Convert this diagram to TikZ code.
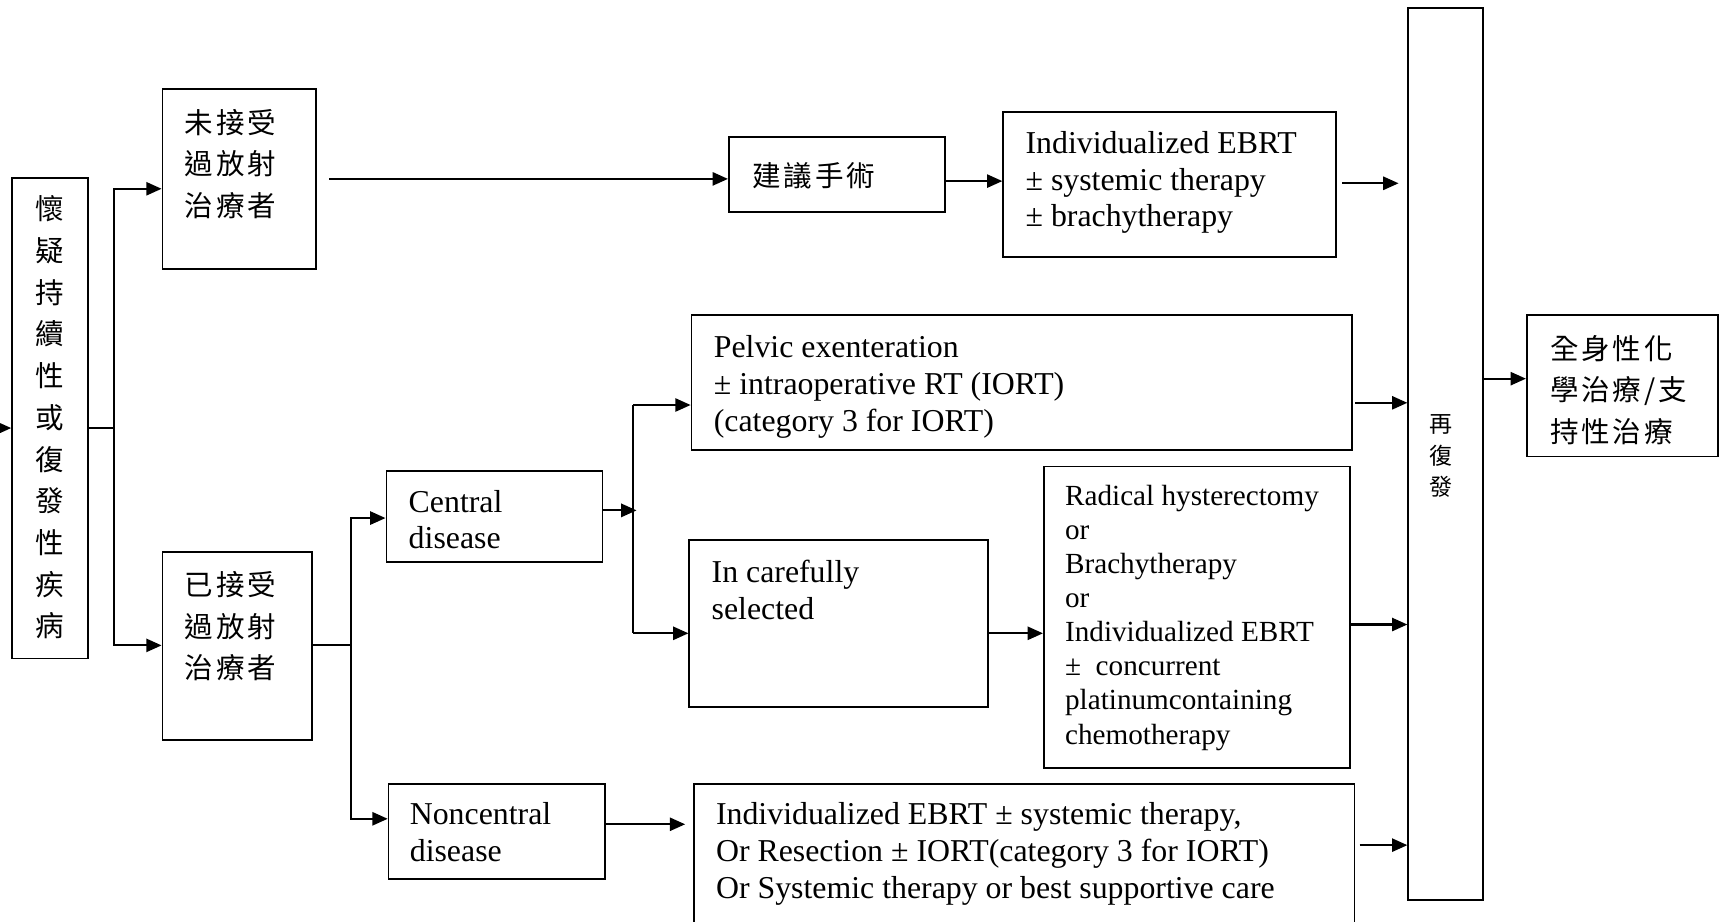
\documentclass[tikz,border=0pt]{standalone}
\usepackage{fontspec}
\setmainfont{Liberation Serif}
\newfontfamily\cjk[LetterSpace=10]{Noto Sans CJK TC}
\newfontfamily\cjkplain{Noto Sans CJK TC}
\usetikzlibrary{arrows.meta,fit}
\begin{document}
\begin{tikzpicture}[x=0.5pt,y=-0.5pt]
\tikzset{
 box/.style={draw, line width=0.75pt, inner sep=0pt},
 arr/.style={line width=1pt, -{Triangle[length=7pt,width=6pt]}},
 ln/.style={line width=1pt},
 tx/.style={inner sep=0pt, anchor=north west, align=left, font=\fontsize{14.5}{16.8}\selectfont, execute at begin node=\strut},
 txs/.style={tx, font=\fontsize{13.3}{15.5}\selectfont},
 cj/.style={inner sep=0pt, anchor=north west, align=left, font=\cjk\fontsize{13}{19}\selectfont, execute at begin node=\strut},
 cjv/.style={inner sep=0pt, anchor=north, align=center, font=\cjkplain\fontsize{13}{19}\selectfont, execute at begin node=\strut},
 cjr/.style={inner sep=0pt, anchor=north, align=center, font=\cjkplain\fontsize{10.5}{14.5}\selectfont, execute at begin node=\strut},
}
\clip (0,0) rectangle (1568,840);
\useasboundingbox (0,0) rectangle (1568,840);
\fill[white] (0,0) rectangle (1568,840);

% boxes
\node[box, fit={(11,162) (80,600)}] (L) {};
\node[box, fit={(148,81) (288,245)}] (A) {};
\node[box, fit={(148,503) (284,674)}] (B) {};
\node[box, fit={(664,125) (861,193)}] (S) {};
\node[box, fit={(914,102) (1217,234)}] (E) {};
\node[box, fit={(1283,7) (1351,820)}] (R) {};
\node[box, fit={(1391,287) (1565,416)}] (F) {};
\node[box, fit={(352,429) (549,512)}] (C) {};
\node[box, fit={(354,714) (551,801)}] (N) {};
\node[box, fit={(630,287) (1232,410)}] (P) {};
\node[box, fit={(628,492) (900,644)}] (K) {};
\node[box, fit={(951,425) (1230,700)}] (D) {};
\node[box, fit={(632,714) (1234,860)}] (M) {};

% texts
\node[cjv] (tL) at (45,178) {懷\\疑\\持\\續\\性\\或\\復\\發\\性\\疾\\病};
\node[cj] (tA) at (168,99) {未接受\\過放射\\治療者};
\node[cj] (tB) at (168,520) {已接受\\過放射\\治療者};
\node[cj] (tS) at (685,143) {建議手術};
\node[tx] (tE) at (934,119) {Individualized EBRT\\± systemic therapy\\± brachytherapy};
\node[cjr] (tR) at (1313,377) {再\\復\\發};
\node[cj] (tF) at (1412,305) {全身性化\\學治療/支\\持性治療};
\node[tx] (tC) at (372,446) {Central\\disease};
\node[tx] (tN) at (373,731) {Noncentral\\disease};
\node[tx] (tP) at (650,305) {Pelvic exenteration\\± intraoperative RT (IORT)\\(category 3 for IORT)};
\node[tx] (tK) at (648,510) {In carefully\\selected};
\node[txs] (tD) at (970,442) {Radical hysterectomy\\or\\Brachytherapy\\or\\Individualized EBRT\\±\ \ concurrent\\platinumcontaining\\chemotherapy};
\node[tx] (tM) at (652,731) {Individualized EBRT ± systemic therapy,\\Or Resection ± IORT(category 3 for IORT)\\Or Systemic therapy or best supportive care};

% connectors
\coordinate (j0) at (-6,390);
\draw[arr] (j0) -- (L.west |- j0);
\coordinate (j1) at (104,390);
\coordinate (a1) at (104,172);
\coordinate (b1) at (104,588);
\draw[ln] (L.east |- j1) -- (j1);
\draw[arr] (j1) -- (a1) -- (A.west |- a1);
\draw[arr] (j1) -- (b1) -- (B.west |- b1);

\coordinate (s0) at (300,163);
\draw[arr] (s0) -- (S.west |- s0);
\coordinate (s1) at (0,165);
\draw[arr] (S.east |- s1) -- (E.west |- s1);
\coordinate (e1) at (0,167);
\draw[arr, shorten <=2.5pt, shorten >=4pt] (E.east |- e1) -- (R.west |- e1);
\coordinate (f1) at (0,345);
\draw[arr] (R.east |- f1) -- (F.west |- f1);

\coordinate (j2) at (320,588);
\coordinate (c1) at (320,472);
\coordinate (n1) at (320,746);
\draw[ln] (B.east |- j2) -- (j2);
\draw[arr] (j2) -- (c1) -- (C.west |- c1);
\draw[arr] (j2) -- (n1) -- (N.west |- n1);

\coordinate (j3) at (580,465);
\coordinate (p1) at (577,369);
\coordinate (k1) at (577,577);
\draw[arr] (C.east |- j3) -- (j3);
\draw[ln] (p1) -- (k1);
\draw[arr] (p1) -- (P.west |- p1);
\draw[arr] (k1) -- (K.west |- k1);
\draw[arr] (K.east |- k1) -- (D.west |- k1);

\coordinate (p2) at (0,367);
\draw[arr, shorten <=1pt] (P.east |- p2) -- (R.west |- p2);
\coordinate (d2) at (0,569);
\draw[arr] (D.east |- d2) -- (R.west |- d2);
\coordinate (m1) at (0,751);
\draw[arr, shorten >=3.5pt] (N.east |- m1) -- (M.west |- m1);
\coordinate (m2) at (0,770);
\draw[arr, shorten <=2pt] (M.east |- m2) -- (R.west |- m2);
\end{tikzpicture}
\end{document}
